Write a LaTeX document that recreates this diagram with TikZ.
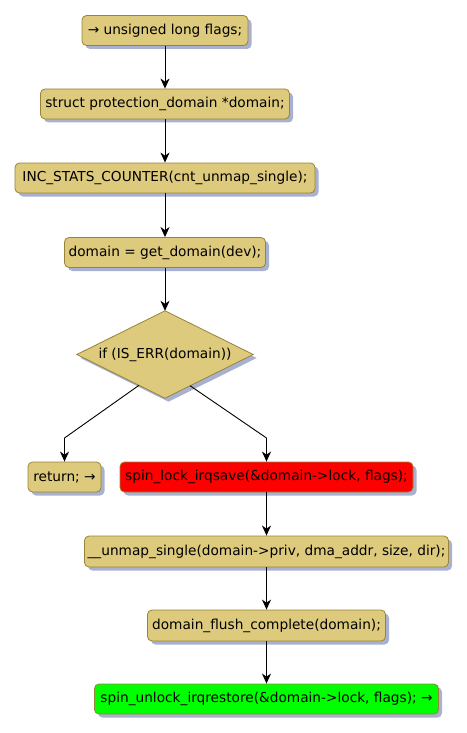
\documentclass[tikz,border=0pt]{standalone}
\usepackage{fontspec}
\setmainfont{DejaVu Sans}
\usetikzlibrary{shadows,calc,arrows.meta}
\definecolor{tan}{RGB}{221,202,124}
\definecolor{tanborder}{RGB}{152,132,56}
\definecolor{shadowcol}{RGB}{168,178,208}
\definecolor{redfill}{RGB}{255,0,0}
\definecolor{greenfill}{RGB}{0,255,0}
\tikzset{
  actbox/.style={draw=tanborder, fill=tan, line width=0.8pt, rounded corners=4.5pt,
    inner sep=0pt, minimum height=30pt, anchor=center,
    font=\fontsize{13.7}{16}\selectfont,
    drop shadow={shadow xshift=3.5pt, shadow yshift=-3.5pt, fill=shadowcol, opacity=1}},
  diashape/.style={draw=tanborder, fill=tan, line width=0.8pt,
    drop shadow={shadow xshift=3.5pt, shadow yshift=-3.5pt, fill=shadowcol, opacity=1}},
  frame/.style={shape=rectangle, draw=none, inner sep=0pt},
  labeltext/.style={font=\fontsize{13.7}{16}\selectfont, inner sep=0pt},
  flow/.style={draw=black, line width=1pt, -{Stealth[length=10pt, width=9pt, inset=3pt]}},
  plainline/.style={draw=black, line width=0.9pt}
}
\begin{document}
\begin{tikzpicture}[x=1pt, y=-1pt]
\useasboundingbox (0,0) rectangle (466,733);
\node[actbox, minimum width=166pt] (b1) at (165,30.5) {→ unsigned long flags;};
\node[actbox, minimum width=249pt] (b2) at (165,104) {struct protection\_domain *domain;};
\node[actbox, minimum width=300pt] (b3) at (165,178) {INC\_STATS\_COUNTER(cnt\_unmap\_single);};
\node[actbox, minimum width=201pt] (b4) at (165,252.5) {domain = get\_domain(dev);};
\node[frame, minimum width=176pt, minimum height=87pt] (d) at (165,354.5) {};
\path[diashape] (d.north) -- (d.east) -- (d.south) -- (d.west) -- cycle;
\node[labeltext] (dtext) at (d.center) {if (IS\_ERR(domain))};
\node[actbox, minimum width=73pt] (ret) at (64.5,477) {return; →};
\node[actbox, fill=redfill, minimum width=293pt] (lock) at (266.5,477) {spin\_lock\_irqsave(\&domain->lock, flags);};
\node[actbox, minimum width=364pt, minimum height=31pt] (unmap) at (266.5,551.5) {\_\_unmap\_single(domain->priv, dma\_addr, size, dir);};
\node[actbox, minimum width=238pt, minimum height=31pt] (flush) at (266.5,625.5) {domain\_flush\_complete(domain);};
\node[actbox, fill=greenfill, minimum width=344pt] (unlock) at (266.5,699) {spin\_unlock\_irqrestore(\&domain->lock, flags); →};

\draw[flow] (b1.south) -- (b2.north);
\draw[flow] (b2.south) -- (b3.north);
\draw[flow] (b3.south) -- (b4.north);
\draw[flow] (b4.south) -- (d.north);

\coordinate (dl) at ($(d.west)!0.705!(d.south)$);
\coordinate (dr) at ($(d.east)!0.715!(d.south)$);
\coordinate (kl) at (64.5,438);
\coordinate (kr) at (266.5,438);
\draw[plainline] (dl) -- (kl);
\draw[flow] (kl) -- (ret.north);
\draw[plainline] (dr) -- (kr);
\draw[flow] (kr) -- (lock.north);

\draw[flow] (lock.south) -- (unmap.north);
\draw[flow] (unmap.south) -- (flush.north);
\draw[flow] (flush.south) -- (unlock.north);
\end{tikzpicture}
\end{document}
